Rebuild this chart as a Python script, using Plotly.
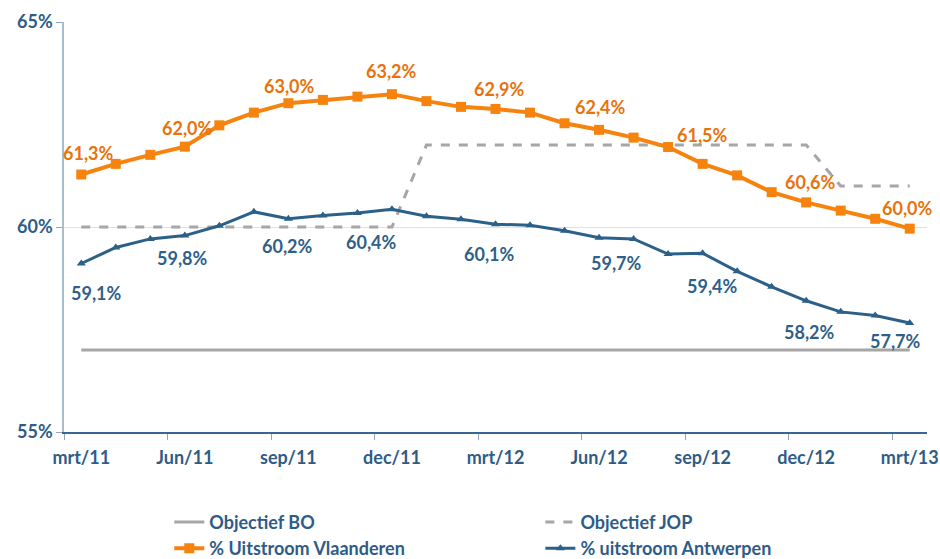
import plotly.graph_objects as go

months = ["mrt/11", "apr/11", "mei/11", "Jun/11", "jul/11", "aug/11", "sep/11", "okt/11", "nov/11",
          "dec/11", "jan/12", "feb/12", "mrt/12", "apr/12", "mei/12", "Jun/12", "jul/12", "aug/12",
          "sep/12", "okt/12", "nov/12", "dec/12", "jan/13", "feb/13", "mrt/13"]
tick_months = ["mrt/11", "Jun/11", "sep/11", "dec/11", "mrt/12", "Jun/12", "sep/12", "dec/12", "mrt/13"]

objectief_bo = [57.0] * 25
objectief_jop = [60.0, 60.0, 60.0, 60.0, 60.0, 60.0, 60.0, 60.0, 60.0, 60.0,
                 62.0, 62.0, 62.0, 62.0, 62.0, 62.0, 62.0, 62.0, 62.0, 62.0, 62.0, 62.0,
                 61.0, 61.0, 61.0]
vlaanderen = [61.28, 61.54, 61.76, 61.96, 62.48, 62.79, 63.02, 63.10, 63.18, 63.24,
              63.07, 62.93, 62.88, 62.79, 62.53, 62.37, 62.18, 61.95, 61.54, 61.26,
              60.85, 60.60, 60.40, 60.20, 59.96]
antwerpen = [59.11, 59.50, 59.71, 59.79, 60.03, 60.37, 60.20, 60.28, 60.34, 60.43,
             60.26, 60.19, 60.07, 60.04, 59.91, 59.74, 59.71, 59.34, 59.36, 58.92,
             58.54, 58.20, 57.93, 57.84, 57.66]
label_idx = [0, 3, 6, 9, 12, 15, 18, 21, 24]

# label offsets (style): pixels
vl_dx = [7, 3, 1, 0, 4, 1, 0, 4, -2]
vl_dy = [22, 19, 17, 23, 20, 23, 29, 20, 21]
an_dx = [15, -2, -1, -20, -6, 17, 10, 3, -14]
an_dy = [-30, -22, -27, -33, -30, -25, -33, -31, -18]

FONT = "Lato, 'Open Sans', sans-serif"
ORANGE = "#F7830F"
ORANGE_TXT = "#E8720C"
BLUE = "#2B6089"
BLUE_TXT = "#2F5F8A"
GREY = "#A6A6A6"
AXIS_TXT = "#2E5C87"
FS = 18

x = list(range(len(months)))

fig = go.Figure()
fig.add_trace(go.Scatter(x=x, y=objectief_bo, mode="lines", name="Objectief BO",
                         line=dict(color=GREY, width=3), hoverinfo="skip", legend="legend"))
fig.add_trace(go.Scatter(x=x, y=objectief_jop, mode="lines", name="Objectief JOP",
                         line=dict(color=GREY, width=3, dash="dash"), hoverinfo="skip",
                         legend="legend2"))
fig.add_trace(go.Scatter(x=x, y=vlaanderen, mode="lines+markers", name="% Uitstroom Vlaanderen",
                         line=dict(color=ORANGE, width=4),
                         marker=dict(symbol="square", size=10, color=ORANGE), legend="legend"))
fig.add_trace(go.Scatter(x=x, y=antwerpen, mode="lines+markers", name="% uitstroom Antwerpen",
                         line=dict(color=BLUE, width=3),
                         marker=dict(symbol="triangle-up", size=8, color=BLUE), legend="legend2"))

def fmt(v):
    return f"{v:.1f}".replace(".", ",") + "%"

annotations = []
for k, i in enumerate(label_idx):
    annotations.append(dict(x=i, y=vlaanderen[i], text=fmt(vlaanderen[i]), showarrow=False,
                            xshift=vl_dx[k], yshift=vl_dy[k],
                            font=dict(family=FONT, size=FS, color=ORANGE_TXT, weight="bold")))
    annotations.append(dict(x=i, y=antwerpen[i], text=fmt(antwerpen[i]), showarrow=False,
                            xshift=an_dx[k], yshift=an_dy[k],
                            font=dict(family=FONT, size=FS, color=BLUE_TXT, weight="bold")))

legend_style = dict(orientation="v", xanchor="left", y=-0.175, yanchor="top",
                    font=dict(family=FONT, size=FS, color=AXIS_TXT, weight="bold"),
                    bgcolor="rgba(0,0,0,0)", traceorder="normal", tracegroupgap=0)

fig.update_layout(
    width=940, height=559,
    margin=dict(l=64, r=13, t=22, b=127, autoexpand=False),
    paper_bgcolor="white", plot_bgcolor="white",
    font=dict(family=FONT, size=FS, color=AXIS_TXT, weight="bold"),
    showlegend=True,
    legend=dict(x=0.122, **legend_style),
    legend2=dict(x=0.552, **legend_style),
    annotations=annotations,
    xaxis=dict(range=[-0.5, 24.5], tickmode="array", automargin=False,
               tickvals=[months.index(m) for m in tick_months], ticktext=tick_months,
               ticks="outside", ticklen=9, tickcolor="rgba(0,0,0,0)",
               showline=True, linecolor="#3A6690", linewidth=1.5,
               showgrid=False, zeroline=False,
               minor=dict(tick0=-0.5, dtick=3, ticks="outside", ticklen=6,
                          tickcolor="#8FA8BE", showgrid=False),
               tickfont=dict(family=FONT, size=FS, color=AXIS_TXT, weight="bold")),
    yaxis=dict(range=[55, 65], tickmode="array", tickvals=[55, 60, 65], automargin=False,
               ticktext=["55%", "60%", "65%"],
               ticks="outside", ticklen=6, tickcolor="#8FA8BE",
               showline=True, linecolor="#A9BDCE", linewidth=1.5,
               showgrid=True, gridcolor="#D6E3EA", gridwidth=1, zeroline=False,
               tickfont=dict(family=FONT, size=FS, color=AXIS_TXT, weight="bold")),
)

fig.write_html("out.html", config={"displayModeBar": False},
               post_script="document.body.style.margin='0';document.body.style.overflow='hidden';")
